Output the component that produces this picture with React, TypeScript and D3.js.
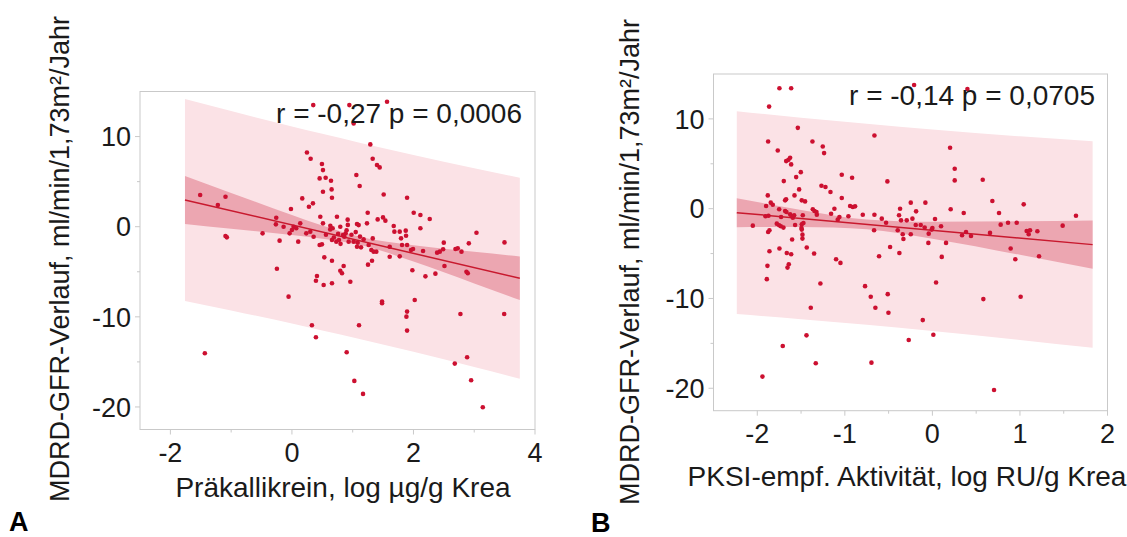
import React from "react";
import * as d3 from "d3";

// ---------- Panel A data: Präkallikrein ----------
const aX = [0.351,0.945,1.016,1.565,1.290,0.247,0.308,1.329,1.400,1.444,0.494,0.511,0.456,0.555,0.643,1.060,1.115,0.511,0.653,0.659,1.510,1.895,0.170,0.346,0.280,-1.510,-1.093,-1.219,-0.016,1.247,2.004,2.114,2.268,1.411,1.499,1.538,0.467,0.741,0.917,1.071,1.098,1.235,-0.258,-0.264,-0.137,0.027,0.071,0.137,0.511,0.632,0.670,-0.483,-0.038,0.000,0.236,0.302,0.357,0.796,1.675,1.686,1.774,1.873,1.796,1.878,2.114,-1.093,-1.071,-0.203,0.104,0.456,0.494,0.659,0.730,0.774,0.840,0.862,0.884,0.934,1.016,1.082,1.071,1.137,1.263,1.307,1.345,1.389,1.609,1.812,1.895,1.960,1.993,2.158,2.389,2.433,2.499,2.488,2.691,2.729,2.790,2.911,3.037,3.498,0.533,0.659,1.252,1.318,1.609,1.774,2.510,2.197,2.361,1.982,2.872,2.894,-0.247,0.796,0.824,0.851,0.412,0.395,0.522,0.659,0.961,-0.055,1.483,1.483,2.021,2.773,3.493,1.895,1.884,1.895,0.329,0.395,1.104,-1.433,0.901,2.680,2.883,1.027,1.170,2.949,3.141,0.63,0.76,0.90,0.98,1.05,1.12,0.56,0.69,0.80,1.18,1.33,0.92];
const aY = [13.49,13.49,11.46,13.86,9.13,8.24,7.54,7.54,6.84,6.58,6.95,6.28,5.36,5.43,5.10,5.73,4.51,3.88,4.14,3.22,3.58,3.22,3.14,2.59,2.22,3.51,3.33,2.40,1.96,1.55,1.55,1.29,0.85,0.81,1.03,0.67,1.11,1.11,0.78,0.30,0.18,0.37,1.00,0.26,0.00,0.00,-0.18,0.37,0.37,0.11,-0.18,-0.74,-0.74,-0.37,-0.74,-0.55,-1.11,0.00,0.07,-0.55,-0.55,-0.44,-1.29,-1.00,-0.18,-1.03,-1.18,-1.55,-1.66,-2.03,-1.96,-1.48,-1.66,-1.48,-0.92,-1.11,-0.74,-1.66,-1.66,-1.77,-2.22,-2.29,-2.03,-2.59,-2.77,-2.77,-2.22,-2.03,-2.03,-2.59,-2.48,-2.70,-2.88,-2.77,-1.77,-2.51,-2.48,-2.40,-2.77,-1.85,-0.67,-1.74,-3.40,-3.77,-4.21,-3.77,-3.33,-3.29,-4.36,-5.51,-5.21,-4.84,-4.99,-5.17,-4.66,-4.88,-5.17,-4.36,-5.47,-5.99,-6.47,-6.28,-6.10,-7.76,-8.31,-8.50,-8.13,-9.68,-9.68,-9.42,-9.98,-11.53,-10.94,-12.27,-10.94,-14.04,-13.93,-15.19,-14.49,-17.11,-18.55,-17.04,-20.03,-0.3,-0.8,-0.4,-0.9,-0.6,-1.1,-0.9,-1.2,-1.9,-1.4,-1.3,0.2];

const aFitX = [-1.76, 3.75];
const aFitY = [2.97, -5.72];
const aBandX = [-1.76, -1.0, 0.0, 0.5, 1.13, 2.0, 3.0, 3.75];
const aCiHi = [5.63, 3.75, 1.31, 0.13, -1.14, -2.05, -2.78, -3.30];
const aCiLo = [0.31, -0.22, -0.93, -1.33, -2.04, -3.87, -6.30, -8.14];
const aPiHi = [14.17, 12.83, 11.13, 10.31, 9.30, 7.96, 6.48, 5.43];
const aPiLo = [-8.23, -9.29, -10.75, -11.51, -12.48, -13.88, -15.56, -16.87];

// ---------- Panel B data: PKSI ----------
const bX = [-1.747,-1.613,-0.209,0.400,-1.865,-1.537,-0.662,-1.876,-1.370,-1.252,-1.237,-1.766,0.202,-1.670,-1.644,-1.625,-1.613,0.255,-1.503,-1.035,-0.917,-1.556,-0.514,0.255,0.575,-1.697,-1.267,-1.221,-1.522,-1.164,-1.880,-1.575,-1.035,-1.492,-1.454,-1.682,-1.671,-1.846,-1.823,-1.899,-0.247,-0.080,-0.940,-0.909,-0.883,0.685,1.043,-1.119,-0.369,0.209,-1.750,-1.682,-1.667,-1.366,-1.347,-1.324,-1.320,-1.157,-1.625,-1.606,-1.594,-1.579,-1.480,-1.906,-1.872,-1.728,-1.062,-0.959,-0.795,-0.662,-0.381,-0.186,0.358,0.761,1.640,-1.081,-0.578,-0.529,-0.358,-0.293,-0.228,-0.190,-0.133,0.030,0.099,-0.088,0.000,-0.008,0.780,0.864,0.963,1.488,-2.051,-1.777,-1.750,-1.731,-1.701,-1.568,-1.492,-1.495,-1.473,-1.876,-1.861,-1.492,-1.484,-1.484,-1.602,-0.666,-0.396,-0.339,-0.331,-0.247,-0.042,0.339,0.384,0.441,0.658,1.077,1.115,1.100,1.199,-0.046,0.156,-1.435,-0.483,0.894,-1.747,-1.861,-1.663,-1.613,-1.351,-0.377,-0.609,0.107,1.218,0.947,-1.100,-1.050,-1.640,-1.655,-1.884,-1.891,-1.279,0.042,-0.769,-0.704,-0.510,0.582,1.008,-0.651,-1.389,-0.502,-0.110,-1.438,0.011,-0.270,-1.709,-1.332,-0.696,-1.941,0.704];
const bY = [13.41,13.41,13.78,13.33,11.37,9.00,8.15,7.48,7.48,6.93,6.19,6.48,6.78,5.30,5.44,5.67,4.93,4.44,4.07,3.78,3.44,3.52,3.04,3.15,3.22,3.07,2.56,2.41,2.15,1.85,1.48,1.48,1.19,0.93,0.81,0.93,1.04,0.67,0.44,0.30,0.67,0.67,0.30,0.19,0.26,0.85,0.48,0.00,0.00,-0.07,-0.07,-0.26,-0.37,-0.07,-0.26,-0.37,-0.67,-0.56,-0.63,-0.85,-1.00,-0.74,-0.74,-0.85,-0.78,-0.93,-0.93,-0.85,-0.67,-0.67,-0.74,-0.30,-0.48,-0.48,-0.78,-1.22,-1.11,-1.56,-1.30,-1.30,-1.11,-1.81,-1.81,-1.15,-1.96,-2.11,-2.15,-2.33,-1.78,-1.56,-1.56,-1.89,-1.89,-1.67,-1.85,-1.96,-2.11,-1.81,-1.74,-2.15,-1.59,-2.59,-2.41,-2.33,-2.89,-3.33,-3.44,-2.41,-2.41,-2.85,-3.37,-2.85,-2.78,-2.96,-2.59,-3.04,-2.70,-2.48,-2.41,-2.85,-2.52,-3.81,-3.81,-4.33,-4.26,-4.44,-4.44,-4.74,-4.93,-5.07,-5.00,-4.93,-5.30,-5.37,-5.30,-5.63,-5.63,-6.04,-6.19,-6.56,-6.37,-7.85,-8.33,-8.22,-8.63,-9.81,-9.52,-10.07,-9.81,-11.04,-11.04,-11.59,-12.41,-14.11,-14.04,-14.63,-15.30,-17.22,-17.15,-18.70,-20.19];

const bFitX = [-2.234, 1.83];
const bFitY = [-0.443, -4.003];
const bBandX = [-2.234, -1.5, -0.75, 0.0, 1.0, 1.83];
const bCiHi = [1.17, -0.14, -1.20, -1.46, -1.41, -1.32];
const bCiLo = [-2.06, -2.03, -2.29, -3.34, -5.14, -6.69];
const bPiHi = [10.86, 10.14, 9.46, 8.82, 8.06, 7.50];
const bPiLo = [-11.74, -12.31, -12.94, -13.62, -14.62, -15.50];

const yMajor = [-20, -10, 0, 10];
const yMinor = [-15, -5, 5];
const aXMajor = [-2, 0, 2, 4];
const aXMinor = [-1, 1, 3];
const bXMajor = [-2, -1, 0, 1, 2];
const bXMinor = [-1.5, -0.5, 0.5, 1.5];

const yTitle = "MDRD-GFR-Verlauf, ml/min/1,73m²/Jahr";
const FONT = "'Liberation Sans', Arial, Helvetica, sans-serif";

type PanelProps = {
  left: number; right: number; top: number; bottom: number;
  xDomain: [number, number];
  xs: number[]; ys: number[];
  fitX: number[]; fitY: number[];
  bandX: number[]; ciHi: number[]; ciLo: number[]; piHi: number[]; piLo: number[];
  xMajor: number[]; xMinor: number[];
  xTitle: string; xTitleX: number; xTitleY: number;
  yTitleX: number; yTitleY: number;
  note: string; noteX: number; noteY: number;
  letter: string; letterX: number; letterY: number;
};

function Panel(p: PanelProps) {
  const x = d3.scaleLinear().domain(p.xDomain).range([p.left, p.right]);
  const y = d3.scaleLinear().domain([-22.5, 15]).range([p.bottom, p.top]);
  const idx = p.bandX.map((_, i) => i);
  const pi = d3.area<number>().x(i => x(p.bandX[i])).y0(i => y(p.piLo[i])).y1(i => y(p.piHi[i])).curve(d3.curveMonotoneX);
  const ci = d3.area<number>().x(i => x(p.bandX[i])).y0(i => y(p.ciLo[i])).y1(i => y(p.ciHi[i])).curve(d3.curveMonotoneX);
  const fit = d3.line<number>().x(i => x(p.fitX[i])).y(i => y(p.fitY[i]));
  const gray = "#c9c9c9";
  return (
    <g>
      <path d={pi(idx) || ""} fill="#fbe2e6" />
      <path d={ci(idx) || ""} fill="#eca6b1" />
      <path d={fit([0, 1]) || ""} stroke="#c8192e" strokeWidth={1.5} fill="none" />
      {p.xs.map((v, i) => (
        <circle key={i} cx={x(v)} cy={y(p.ys[i])} r={2.3} fill="#cc1030" />
      ))}
      <rect x={p.left} y={p.top} width={p.right - p.left} height={p.bottom - p.top} fill="none" stroke={gray} strokeWidth={1} />
      {yMajor.map(v => (
        <g key={"ym" + v}>
          <line x1={p.left - 5} x2={p.left} y1={y(v)} y2={y(v)} stroke={gray} />
          <text x={p.left - 9} y={y(v)} dy="0.36em" textAnchor="end" fontSize={27} fill="#1a1a1a" fontFamily={FONT}>{v}</text>
        </g>
      ))}
      {yMinor.map(v => (
        <line key={"yn" + v} x1={p.left - 3} x2={p.left} y1={y(v)} y2={y(v)} stroke={gray} />
      ))}
      {p.xMajor.map(v => (
        <g key={"xm" + v}>
          <line x1={x(v)} x2={x(v)} y1={p.bottom} y2={p.bottom + 5} stroke={gray} />
          <text x={x(v)} y={p.bottom + 32.4} textAnchor="middle" fontSize={27} fill="#1a1a1a" fontFamily={FONT}>{v}</text>
        </g>
      ))}
      {p.xMinor.map(v => (
        <line key={"xn" + v} x1={x(v)} x2={x(v)} y1={p.bottom} y2={p.bottom + 3} stroke={gray} />
      ))}
      <text x={p.xTitleX} y={p.xTitleY} textAnchor="middle" fontSize={28} fill="#1a1a1a" fontFamily={FONT}>{p.xTitle}</text>
      <text transform={`translate(${p.yTitleX},${p.yTitleY}) rotate(-90)`} textAnchor="middle" fontSize={27} fill="#1a1a1a" fontFamily={FONT}>{yTitle}</text>
      <text x={p.noteX} y={p.noteY} textAnchor="end" fontSize={28} fill="#1a1a1a" fontFamily={FONT}>{p.note}</text>
      <text x={p.letterX} y={p.letterY} fontSize={27} fontWeight="bold" fill="#000" fontFamily={FONT}>{p.letter}</text>
    </g>
  );
}

export default function App() {
  return (
    <svg width={1127} height={537} style={{ position: "absolute", left: 0, top: 0, background: "#fff" }}>
      <rect width={1127} height={537} fill="#fff" />
      <Panel left={140} right={535} top={91.5} bottom={429.5} xDomain={[-2.5, 4]}
        xs={aX} ys={aY} fitX={aFitX} fitY={aFitY}
        bandX={aBandX} ciHi={aCiHi} ciLo={aCiLo} piHi={aPiHi} piLo={aPiLo}
        xMajor={aXMajor} xMinor={aXMinor}
        xTitle="Präkallikrein, log µg/g Krea" xTitleX={343} xTitleY={497}
        yTitleX={69} yTitleY={259}
        note="r = -0,27 p = 0,0006" noteX={522} noteY={123}
        letter="A" letterX={9} letterY={531} />
      <Panel left={713.5} right={1107.5} top={74} bottom={410.7} xDomain={[-2.5, 2]}
        xs={bX} ys={bY} fitX={bFitX} fitY={bFitY}
        bandX={bBandX} ciHi={bCiHi} ciLo={bCiLo} piHi={bPiHi} piLo={bPiLo}
        xMajor={bXMajor} xMinor={bXMinor}
        xTitle="PKSI-empf. Aktivität, log RU/g Krea" xTitleX={907} xTitleY={486}
        yTitleX={639} yTitleY={262}
        note="r = -0,14 p = 0,0705" noteX={1095} noteY={104.5}
        letter="B" letterX={591} letterY={532} />
    </svg>
  );
}
